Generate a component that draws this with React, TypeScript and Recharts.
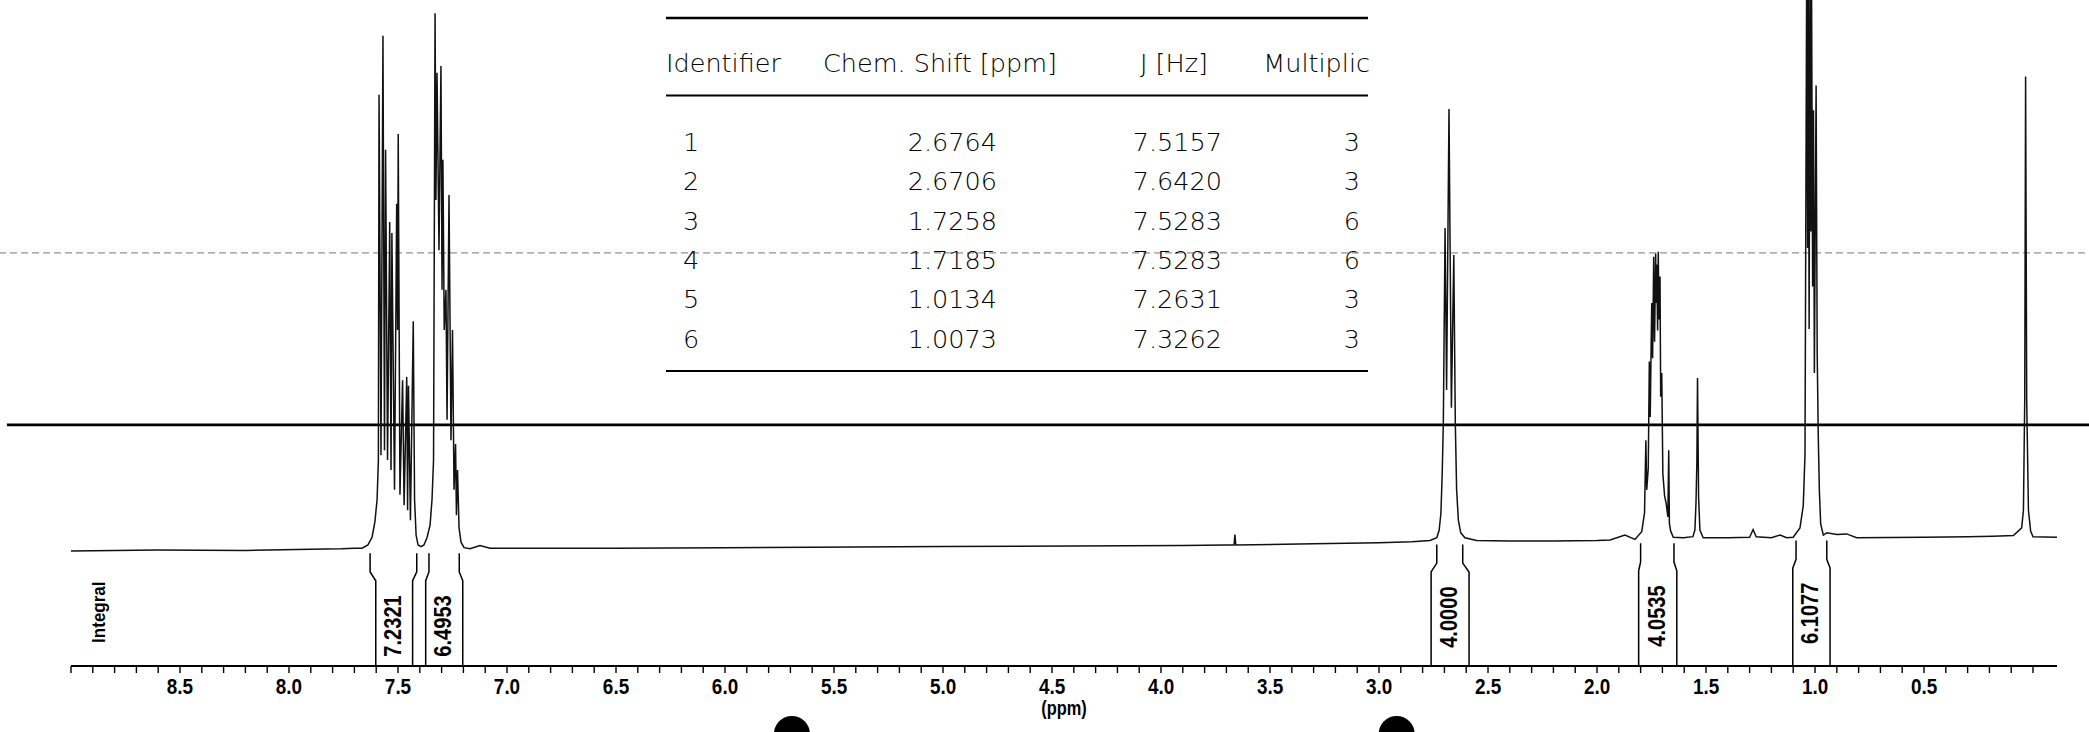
import { LineChart, Line, XAxis, YAxis, ReferenceLine, ReferenceDot } from 'recharts'

// spectrum trace: [ppm, intensity]
// intensity 0 = baseline at the left edge, 100 = top edge of the page
const SPECTRUM: [number, number][] = [
  [9.0, 0.0], [8.6, 0.2], [8.2, 0.1], [7.9, 0.3], [7.76, 0.4], [7.7, 0.5],
  [7.665, 0.5], [7.638, 1.1], [7.619, 2.5], [7.606, 5.3], [7.596, 9.3], [7.59, 16.5],
  [7.587, 82.8], [7.578, 17.4], [7.569, 93.5], [7.562, 18.3], [7.557, 72.8], [7.548, 16.5],
  [7.538, 59.7], [7.532, 14.7], [7.528, 57.7], [7.516, 11.1], [7.506, 63], [7.502, 40.1],
  [7.499, 75.7], [7.491, 10.2], [7.479, 31], [7.472, 8.3], [7.46, 31.6], [7.456, 7.4],
  [7.452, 30], [7.443, 5.6], [7.43, 41.7], [7.424, 9.3], [7.417, 2.9], [7.408, 1.1],
  [7.394, 0.8], [7.381, 1.1], [7.367, 2.4], [7.353, 4.7], [7.344, 9.3], [7.337, 16.5],
  [7.33, 97.6], [7.326, 63.7], [7.321, 86.8], [7.312, 54.6], [7.303, 88], [7.298, 47.4],
  [7.294, 71], [7.288, 40.1], [7.28, 47.4], [7.275, 23.8], [7.266, 64.6], [7.257, 20.1],
  [7.25, 40.1], [7.243, 11.1], [7.236, 19.4], [7.232, 6.5], [7.227, 14.7], [7.22, 4.2],
  [7.211, 1.6], [7.197, 0.6], [7.17, 0.4], [7.124, 1.0], [7.078, 0.5],
  [6.5, 0.5], [6.0, 0.6], [5.6, 0.7], [5.0, 0.8], [4.4, 0.9], [3.9, 1.0], [3.7, 1.1],
  [3.665, 1.1], [3.661, 3.0], [3.657, 1.1], [3.3, 1.3], [3.0, 1.5], [2.85, 1.7],
  [2.766, 1.9], [2.735, 2.4], [2.724, 3.8], [2.716, 6.9], [2.71, 14.2], [2.705, 23.2],
  [2.697, 58.6], [2.69, 29.2], [2.679, 80.2], [2.668, 26.0], [2.657, 53.7], [2.65, 23.2],
  [2.644, 11.1], [2.636, 5.6], [2.625, 3.3], [2.606, 2.4], [2.552, 1.9],
  [2.4, 1.8], [2.2, 1.8], [2.0, 1.9], [1.94, 2.0], [1.872, 2.9], [1.826, 2.1],
  [1.795, 3.5], [1.782, 6.9], [1.776, 20.1], [1.772, 11.1], [1.765, 15], [1.76, 34.4],
  [1.756, 24.3], [1.749, 45], [1.745, 35], [1.74, 53.4], [1.736, 38], [1.731, 54],
  [1.729, 45], [1.726, 52], [1.722, 40], [1.719, 54.3], [1.716, 42], [1.711, 49.8],
  [1.708, 28], [1.703, 32.3], [1.698, 14], [1.69, 10], [1.683, 8.7], [1.675, 6.2],
  [1.671, 18.3], [1.668, 5.0], [1.662, 3.6], [1.65, 2.5], [1.604, 2.4],
  [1.56, 2.6], [1.551, 3.8], [1.546, 8.7], [1.542, 16], [1.539, 31.4], [1.534, 9.8],
  [1.528, 3.8], [1.513, 2.4], [1.4, 2.4], [1.3, 2.5], [1.284, 3.9], [1.27, 2.6],
  [1.2, 2.4], [1.16, 2.9], [1.13, 2.4],
  [1.1, 2.5], [1.069, 4.2], [1.054, 8.2], [1.046, 17.4], [1.038, 108], [1.034, 55],
  [1.031, 104], [1.027, 40.3], [1.023, 106], [1.019, 58], [1.016, 104], [1.011, 48],
  [1.007, 80], [1.003, 32.3], [0.995, 84.5], [0.99, 36], [0.985, 20.7], [0.98, 10.9],
  [0.974, 4.9], [0.962, 2.9], [0.946, 3.3], [0.9, 3.0], [0.855, 3.1], [0.809, 2.4],
  [0.5, 2.5], [0.3, 2.6], [0.184, 2.7], [0.09, 2.8], [0.052, 4.2], [0.044, 7.4],
  [0.038, 27.4], [0.034, 86.1], [0.029, 27.4], [0.021, 7.4], [0.011, 3.6], [0.0, 2.6],
  [-0.11, 2.5],
]

// integral regions (ppm): upper bracket ends, lower bracket ends, local baseline
const INTEGRAL_LABELS = ['7.2321', '6.4953', '4.0000', '4.0535', '6.1077']
const INTEGRAL_FROM = [7.628, 7.358, 2.735, 1.8, 1.087]
const INTEGRAL_TO = [7.414, 7.219, 2.616, 1.647, 0.946]
const INTEGRAL_FROM_LOW = [7.602, 7.373, 2.761, 1.809, 1.102]
const INTEGRAL_TO_LOW = [7.433, 7.203, 2.587, 1.634, 0.931]
const INTEGRAL_BASE = [0.2, 0.2, 1.8, 2.0, 2.5]

// peak table printed on the sheet
const TABLE_HEADERS = ['Identifier', 'Chem. Shift [ppm]', 'J [Hz]', 'Multiplic']
const IDENTIFIERS = ['1', '2', '3', '4', '5', '6']
const SHIFTS = ['2.6764', '2.6706', '1.7258', '1.7185', '1.0134', '1.0073']
const J_HZ = ['7.5157', '7.6420', '7.5283', '7.5283', '7.2631', '7.3262']
const MULTIPLICITY = ['3', '3', '6', '6', '3', '3']

const TICK_LABELS = ['8.5', '8.0', '7.5', '7.0', '6.5', '6.0', '5.5', '5.0', '4.5', '4.0', '3.5', '3.0', '2.5', '2.0', '1.5', '1.0', '0.5']
const TICKS: number[] = []
for (let i = 90; i >= 0; i--) TICKS.push(i / 10)

const Y_MIN = -20.87
const Y_MAX = 100
const FONT = "'Liberation Sans', Arial, sans-serif"

function AxisTick({ x, y, payload }: any) {
  const label = Number(payload.value).toFixed(1)
  if (!TICK_LABELS.includes(label)) return <g />
  return (
    <text
      transform={`translate(${x},${y + 19}) scale(0.84,1)`}
      textAnchor="middle"
      fontFamily={FONT}
      fontWeight="bold"
      fontSize={22.5}
      fill="#000"
    >
      {label}
    </text>
  )
}

function RotatedLabel({ viewBox, text, size, squeeze = 1, dx = 0 }: any) {
  if (!viewBox) return null
  const cx = viewBox.x + (viewBox.width || 0) / 2 + dx
  const cy = viewBox.y + (viewBox.height || 0) / 2
  return (
    <text
      transform={`translate(${cx},${cy}) rotate(-90) scale(${squeeze},1)`}
      x={0}
      y={size * 0.358}
      textAnchor="middle"
      fontFamily={FONT}
      fontWeight="bold"
      fontSize={size}
      fill="#000"
    >
      {text}
    </text>
  )
}

function PpmLabel({ viewBox }: any) {
  if (!viewBox) return null
  const cx = viewBox.x + viewBox.width / 2
  return (
    <text
      transform={`translate(${cx},${viewBox.y + 49}) scale(0.82,1)`}
      textAnchor="middle"
      fontFamily={FONT}
      fontWeight="bold"
      fontSize={20}
      fill="#000"
    >
      (ppm)
    </text>
  )
}

function PeakTable() {
  const rowY = (i: number) => 150.8 + i * 39.4
  const textStyle = { fontFamily: "'DejaVu Sans', sans-serif", fontWeight: 200, fontSize: 25.5, fill: '#000' }
  return (
    <svg width={2089} height={400} style={{ position: 'absolute', left: 0, top: 0, pointerEvents: 'none' }}>
      <line x1={666} x2={1368} y1={18} y2={18} stroke="#000" strokeWidth={2.5} />
      <line x1={666} x2={1368} y1={95.5} y2={95.5} stroke="#000" strokeWidth={2.2} />
      <line x1={666} x2={1368} y1={371} y2={371} stroke="#000" strokeWidth={2.2} />
      <text x={666} y={72} textAnchor="start" {...textStyle}>{TABLE_HEADERS[0]}</text>
      <text x={940} y={72} textAnchor="middle" {...textStyle}>{TABLE_HEADERS[1]}</text>
      <text x={1174} y={72} textAnchor="middle" {...textStyle}>{TABLE_HEADERS[2]}</text>
      <text x={1370} y={72} textAnchor="end" {...textStyle}>{TABLE_HEADERS[3]}</text>
      {IDENTIFIERS.map((id, i) => (
        <g key={id}>
          <text x={683} y={rowY(i)} textAnchor="start" {...textStyle}>{id}</text>
          <text x={997} y={rowY(i)} textAnchor="end" {...textStyle}>{SHIFTS[i]}</text>
          <text x={1222} y={rowY(i)} textAnchor="end" {...textStyle}>{J_HZ[i]}</text>
          <text x={1360} y={rowY(i)} textAnchor="end" {...textStyle}>{MULTIPLICITY[i]}</text>
        </g>
      ))}
    </svg>
  )
}

export default function App() {
  const data = SPECTRUM.map(([ppm, v]) => ({ ppm, v }))

  const brackets = INTEGRAL_LABELS.flatMap((_, i) => {
    const b = INTEGRAL_BASE[i]
    const side = (up: number, low: number) => [
      { ppm: up, v: b - 0.6 },
      { ppm: up, v: b - 4.0 },
      { ppm: low, v: b - 5.6 },
      { ppm: low, v: Y_MIN },
    ]
    return [side(INTEGRAL_FROM[i], INTEGRAL_FROM_LOW[i]), side(INTEGRAL_TO[i], INTEGRAL_TO_LOW[i])]
  })

  return (
    <div style={{ position: 'absolute', left: 0, top: 0, width: 2089, height: 732, background: '#fff' }}>
      <LineChart width={2089} height={732} data={data} margin={{ top: 0, right: 32, bottom: 0, left: 71 }}>
        <XAxis
          type="number"
          dataKey="ppm"
          domain={[-0.11, 9.0]}
          allowDataOverflow
          reversed
          ticks={TICKS}
          interval={0}
          height={66}
          tickSize={7}
          tickLine={{ stroke: '#000', strokeWidth: 1.4 }}
          axisLine={{ stroke: '#000', strokeWidth: 2.2 }}
          tick={<AxisTick />}
          label={<PpmLabel />}
        />
        <YAxis type="number" hide domain={[Y_MIN, Y_MAX]} allowDataOverflow />
        <ReferenceLine
          segment={[{ x: 9.33, y: 54.1 }, { x: -0.27, y: 54.1 }]}
          ifOverflow="visible"
          stroke="#777"
          strokeWidth={1}
          strokeDasharray="7 4"
        />
        <ReferenceLine
          segment={[{ x: 9.294, y: 22.9 }, { x: -0.27, y: 22.9 }]}
          ifOverflow="visible"
          stroke="#000"
          strokeWidth={2.6}
        />
        <Line
          type="linear"
          dataKey="v"
          stroke="#111"
          strokeWidth={1.5}
          dot={false}
          activeDot={false}
          isAnimationActive={false}
        />
        {brackets.map((pts, k) => (
          <Line
            key={`br-${k}`}
            data={pts}
            type="linear"
            dataKey="v"
            stroke="#000"
            strokeWidth={1.5}
            dot={false}
            activeDot={false}
            isAnimationActive={false}
          />
        ))}
        {INTEGRAL_LABELS.map((label, i) => (
          <ReferenceDot
            key={label}
            x={(INTEGRAL_FROM_LOW[i] + INTEGRAL_TO_LOW[i]) / 2}
            y={INTEGRAL_BASE[i] - 13.8}
            r={0}
            fill="none"
            stroke="none"
            label={<RotatedLabel text={label} size={24.5} squeeze={0.82} dx={-2} />}
          />
        ))}
        <ReferenceDot
          x={8.876}
          y={-11.1}
          r={0}
          fill="none"
          stroke="none"
          label={<RotatedLabel text="Integral" size={18.5} squeeze={0.92} />}
        />
        <ReferenceDot x={5.693} y={-33.2} r={18} fill="#000" stroke="none" ifOverflow="visible" />
        <ReferenceDot x={2.919} y={-33.2} r={18} fill="#000" stroke="none" ifOverflow="visible" />
      </LineChart>
      <PeakTable />
    </div>
  )
}
